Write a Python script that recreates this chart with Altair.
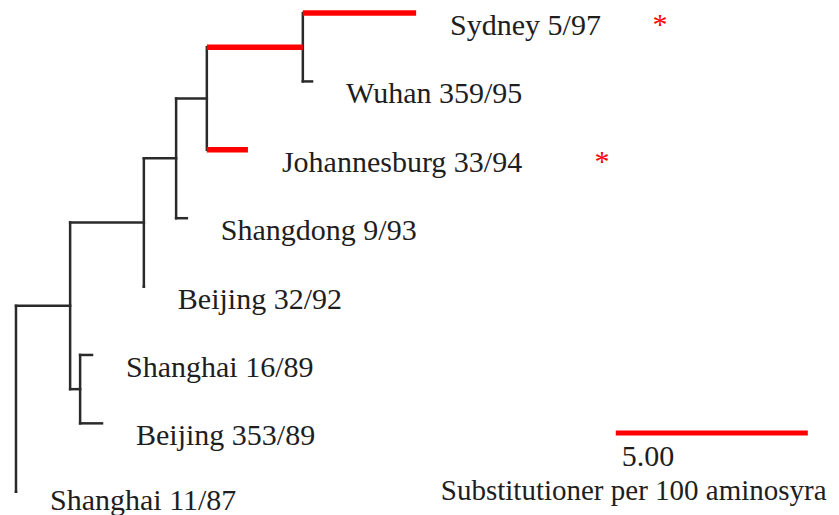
import altair as alt
import pandas as pd

# ---- tree data (branch lengths in substitutions per 100 amino acids) ----
node_names = ["Sydney 5/97", "Wuhan 359/95", "Johannesburg 33/94", "Shangdong 9/93",
              "Beijing 32/92", "Shanghai 16/89", "Beijing 353/89", "Shanghai 11/87",
              "n_E", "n_D", "n_C", "n_B", "n_F", "n_A", "root"]
parents = ["n_E", "n_E", "n_D", "n_C", "n_B", "n_F", "n_F", "root",
           "n_D", "n_C", "n_B", "n_A", "n_A", "root", ""]
branch_lengths = [2.95, 0.24, 1.07, 0.28, 0.00, 0.31, 0.57, 0.00,
                  2.50, 0.80, 0.84, 1.92, 0.26, 1.41, 0.00]
leaf_order = ["Sydney 5/97", "Wuhan 359/95", "Johannesburg 33/94", "Shangdong 9/93",
              "Beijing 32/92", "Shanghai 16/89", "Beijing 353/89", "Shanghai 11/87"]
highlighted = ["Sydney 5/97", "n_E", "Johannesburg 33/94"]
marked_leaves = ["Sydney 5/97", "Johannesburg 33/94"]
marker_dist = [16.77, 15.26]
scale_bar_start = 15.62
scale_bar_length = 5.00
scale_bar_label = "5.00"
scale_bar_title = "Substitutioner per 100 aminosyra"
scale_bar_row = 6.14

# ---- layout computation from the tree ----
parent_of = dict(zip(node_names, parents))
blen = dict(zip(node_names, branch_lengths))
children = {}
for n, p in parent_of.items():
    if p:
        children.setdefault(p, []).append(n)

dist = {}
def depth(n):
    if n in dist:
        return dist[n]
    p = parent_of[n]
    dist[n] = blen[n] + (depth(p) if p else 0.0)
    return dist[n]
for n in node_names:
    depth(n)

row = {n: i for i, n in enumerate(leaf_order)}
def get_row(n):
    if n in row:
        return row[n]
    ys = [get_row(c) for c in children[n]]
    row[n] = sum(ys) / len(ys)
    return row[n]
for n in node_names:
    get_row(n)

horiz = pd.DataFrame([
    {"node": n, "x": dist[parent_of[n]], "x2": dist[n], "y": row[n],
     "hl": n in highlighted}
    for n in node_names if parent_of[n]
])
vert = pd.DataFrame([
    {"node": n, "x": dist[n], "y": min(row[c] for c in children[n]),
     "y2": max(row[c] for c in children[n])}
    for n in node_names if n in children
])
last_row = len(leaf_order) - 1
labels = pd.DataFrame([{"label": n, "x": dist[n], "y": row[n], "last": row[n] == last_row}
                       for n in leaf_order])
markers = pd.DataFrame([{"label": n, "x": mx, "y": row[n], "t": "*"}
                        for n, mx in zip(marked_leaves, marker_dist)])
bar = pd.DataFrame([{"x": scale_bar_start, "x2": scale_bar_start + scale_bar_length,
                     "y": scale_bar_row, "lab": scale_bar_label, "title": scale_bar_title}])

W, H = 823, 507
xs = alt.Scale(domain=[-0.208, -0.208 + W / 38.4], nice=False, zero=False)
ys = alt.Scale(domain=[-0.0738, (H - 5) / 67.71 - 0.0738], nice=False, zero=False, reverse=True)
FONT = "Liberation Serif"
FS = 30
INK = "#1e1e1e"
LINE = "#2a2a2a"
RED = "#ff0000"

black_h = alt.Chart(horiz).transform_filter("!datum.hl").mark_rule(
    color=LINE, strokeWidth=2.5, strokeCap="square").encode(
    x=alt.X("x:Q", scale=xs, axis=None), x2="x2", y=alt.Y("y:Q", scale=ys, axis=None))
vlines = alt.Chart(vert).mark_rule(color=LINE, strokeWidth=2.5, strokeCap="square").encode(
    x=alt.X("x:Q", scale=xs, axis=None), y=alt.Y("y:Q", scale=ys, axis=None), y2="y2")
red_h = alt.Chart(horiz).transform_filter("datum.hl").mark_rule(
    color=RED, strokeWidth=5.5).encode(
    x=alt.X("x:Q", scale=xs, axis=None), x2="x2", y=alt.Y("y:Q", scale=ys, axis=None))
text = alt.Chart(labels).transform_filter("!datum.last").mark_text(
    font=FONT, fontSize=FS, color=INK, align="left", baseline="middle", dx=34, dy=13).encode(
    x=alt.X("x:Q", scale=xs, axis=None), y=alt.Y("y:Q", scale=ys, axis=None), text="label:N")
text_last = alt.Chart(labels).transform_filter("datum.last").mark_text(
    font=FONT, fontSize=FS, color=INK, align="left", baseline="middle", dx=34, dy=9).encode(
    x=alt.X("x:Q", scale=xs, axis=None), y=alt.Y("y:Q", scale=ys, axis=None), text="label:N")
stars = alt.Chart(markers).mark_text(
    font=FONT, fontSize=FS, color=RED, align="center", baseline="middle", dy=12).encode(
    x=alt.X("x:Q", scale=xs, axis=None), y=alt.Y("y:Q", scale=ys, axis=None), text="t:N")
bar_rule = alt.Chart(bar).mark_rule(color=RED, strokeWidth=5).encode(
    x=alt.X("x:Q", scale=xs, axis=None), x2="x2", y=alt.Y("y:Q", scale=ys, axis=None))
bar_lab = alt.Chart(bar).mark_text(
    font=FONT, fontSize=FS, color=INK, align="left", baseline="middle", dx=6, dy=24).encode(
    x=alt.X("x:Q", scale=xs, axis=None), y=alt.Y("y:Q", scale=ys, axis=None), text="lab:N")
bar_title = alt.Chart(bar).mark_text(
    font=FONT, fontSize=29, color=INK, align="left", baseline="middle", dx=-175, dy=58).encode(
    x=alt.X("x:Q", scale=xs, axis=None), y=alt.Y("y:Q", scale=ys, axis=None), text="title:N")

chart = alt.layer(black_h, vlines, red_h, text, text_last, stars, bar_rule, bar_lab,
                  bar_title).properties(
    width=W, height=H, padding=0, autosize=alt.AutoSizeParams(type="none"),
    background="white"
).configure_view(stroke=None)

chart.save("out.html", embed_options={"renderer": "svg", "actions": False})
